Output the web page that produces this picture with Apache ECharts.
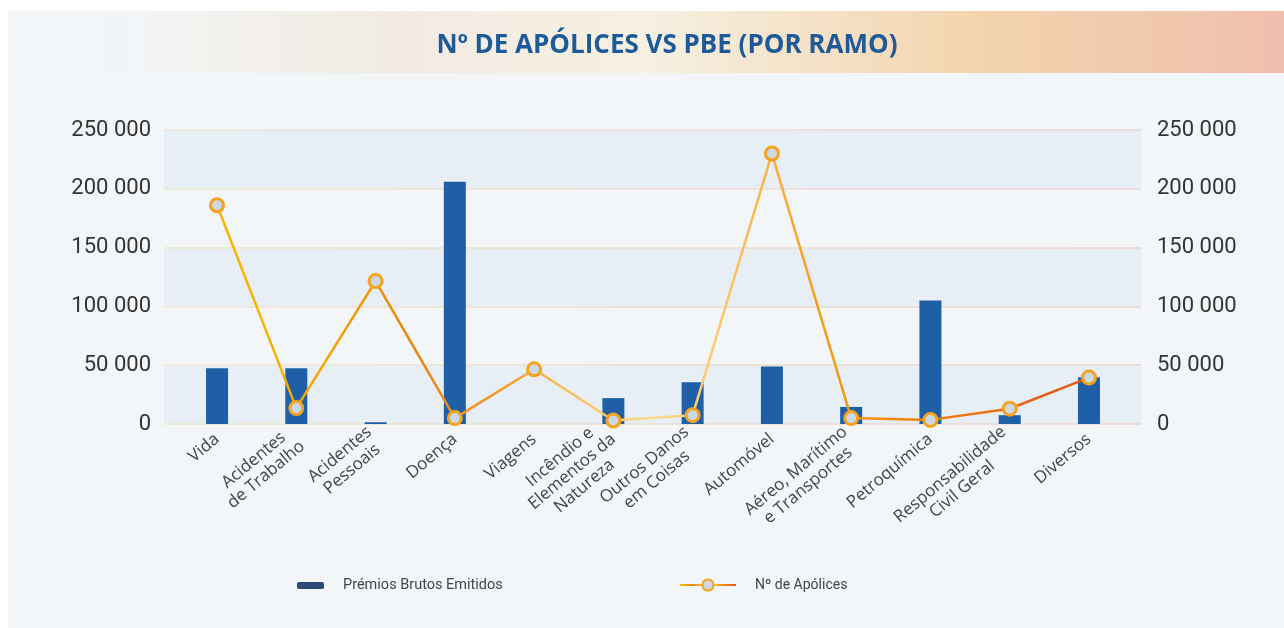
<!DOCTYPE html>
<html>
<head>
<meta charset="utf-8">
<script src="https://cdn.jsdelivr.net/npm/echarts@6/dist/echarts.min.js"></script>
<style>
  html, body { margin: 0; padding: 0; background: #ffffff; }
  #chart { width: 1284px; height: 628px; }
</style>
</head>
<body>
<div id="chart"></div>
<script>
  // dados
  const categories = [
    'Vida',
    'Acidentes\nde Trabalho',
    'Acidentes\nPessoais',
    'Doença',
    'Viagens',
    'Incêndio e\nElementos da\nNatureza',
    'Outros Danos\nem Coisas',
    'Automóvel',
    'Aéreo, Marítimo\ne Transportes',
    'Petroquímica',
    'Responsabilidade\nCivil Geral',
    'Diversos'
  ];
  const pbeValues = [47500, 47500, 1500, 206000, 0, 22000, 35500, 49000, 14500, 105000, 7500, 39800];
  const apolicesValues = [186000, 13500, 121500, 5000, 46500, 3000, 7500, 230000, 5000, 3500, 13000, 39500];
  const yTicks = [0, 50000, 100000, 150000, 200000, 250000];

  const seriesNames = ['Prémios Brutos Emitidos', 'Nº de Apólices'];

  // cores dos segmentos da linha
  const segColors = ['#f7b500', '#f3a200', '#ea840c', '#f29a2e', '#fbbf5c', '#fdd98c',
                     '#fcc262', '#f5a01e', '#f38800', '#ee7414', '#e75b16'];
  const lineStops = segColors.map((c, i) => ({ offset: (i + 0.5) / segColors.length, color: c }));
  lineStops.unshift({ offset: 0, color: segColors[0] });
  lineStops.push({ offset: 1, color: segColors[segColors.length - 1] });

  const fmt = (v) => String(v).replace(/\B(?=(\d{3})+(?!\d))/g, ' ');
  const yMin = yTicks[0];
  const yMax = yTicks[yTicks.length - 1];
  const yStep = yTicks[1] - yTicks[0];

  const myChart = echarts.init(document.getElementById('chart'));
  myChart.setOption({
    animation: false,
    graphic: [
      {
        type: 'rect',
        z: -20,
        shape: { x: 8, y: 11, width: 1276, height: 617 },
        style: { fill: '#f2f6f9' }
      },
      {
        type: 'rect',
        z: -19,
        shape: { x: 8, y: 11, width: 1276, height: 62 },
        style: {
          fill: new echarts.graphic.LinearGradient(0, 0, 1, 0, [
            { offset: 0, color: '#f2f6f9' },
            { offset: 0.09, color: '#f2f5f8' },
            { offset: 0.15, color: '#f3f2ef' },
            { offset: 0.3, color: '#f1ebe3' },
            { offset: 0.5, color: '#f6f0e2' },
            { offset: 0.76, color: '#f3d4ad' },
            { offset: 1, color: '#efbfae' }
          ])
        }
      },
      {
        type: 'text',
        z: 10,
        x: 667,
        y: 46,
        style: {
          text: 'Nº DE APÓLICES VS PBE (POR RAMO)',
          fill: '#1d5a97',
          font: 'bold 26px "Open Sans"',
          textAlign: 'center',
          textVerticalAlign: 'middle'
        }
      }
    ],
    legend: [
      {
        left: 297,
        top: 578,
        padding: 0,
        itemWidth: 27,
        itemHeight: 7,
        data: [{ name: seriesNames[0], itemStyle: { color: '#2d4a7a' } }],
        textStyle: { fontSize: 14.5, color: '#444', fontFamily: 'Roboto', padding: [0, 0, 0, 14] }
      },
      {
        left: 679,
        top: 578,
        padding: 0,
        itemWidth: 56,
        itemHeight: 14,
        data: [seriesNames[1]],
        textStyle: { fontSize: 14, color: '#444', fontFamily: 'Roboto', padding: [0, 0, 0, 14] }
      }
    ],
    grid: [
      // grelha principal (barras e linha)
      { left: 177.4, right: 155.4, top: 130, bottom: 204 },
      // grelha de fundo (faixas e rótulos do eixo)
      { left: 164, right: 143, top: 130, bottom: 204 }
    ],
    xAxis: [
      {
        type: 'category',
        gridIndex: 0,
        data: categories,
        axisLine: { show: false },
        axisTick: { show: false },
        axisLabel: {
          interval: 0,
          rotate: 40,
          margin: 13,
          formatter(value) {
            return value.split('\n').map((s) => '{c|' + s + '}').join('\n');
          },
          rich: {
            c: {
              align: 'center',
              fontSize: 17,
              lineHeight: 19,
              color: '#444',
              fontFamily: 'Open Sans'
            }
          }
        }
      },
      {
        type: 'value',
        gridIndex: 1,
        show: false
      }
    ],
    yAxis: [
      { type: 'value', gridIndex: 0, min: yMin, max: yMax, interval: yStep, show: false },
      { type: 'value', gridIndex: 0, min: yMin, max: yMax, interval: yStep, show: false, position: 'right' },
      {
        type: 'value',
        gridIndex: 1,
        min: yMin,
        max: yMax,
        interval: yStep,
        axisLine: { show: false },
        axisTick: { show: false },
        axisLabel: { formatter: fmt, fontSize: 22, color: '#333', fontFamily: 'Roboto', margin: 13 },
        splitLine: {
          show: true,
          lineStyle: {
            width: 1.5,
            color: new echarts.graphic.LinearGradient(0, 0, 1, 0, [
              { offset: 0, color: '#efe5cf' },
              { offset: 1, color: '#ecd5cf' }
            ])
          }
        },
        splitArea: { show: true, areaStyle: { color: ['#e7eef6', '#f2f6f9'] } }
      },
      {
        type: 'value',
        gridIndex: 1,
        position: 'right',
        min: yMin,
        max: yMax,
        interval: yStep,
        axisLine: { show: false },
        axisTick: { show: false },
        axisLabel: { formatter: fmt, fontSize: 22, color: '#333', fontFamily: 'Roboto', margin: 16 },
        splitLine: { show: false }
      }
    ],
    series: [
      {
        name: seriesNames[0],
        type: 'bar',
        xAxisIndex: 0,
        yAxisIndex: 0,
        barWidth: 22,
        data: pbeValues,
        itemStyle: { color: '#1e5fa5' }
      },
      {
        name: seriesNames[1],
        type: 'line',
        xAxisIndex: 0,
        yAxisIndex: 1,
        data: apolicesValues,
        symbol: 'circle',
        symbolSize: 13,
        lineStyle: {
          width: 2.5,
          color: new echarts.graphic.LinearGradient(0, 0, 1, 0, lineStops)
        },
        itemStyle: {
          color: '#cbd9e6',
          borderColor: '#f5a31c',
          borderWidth: 3
        },
        z: 5
      }
    ]
  });
</script>
</body>
</html>
